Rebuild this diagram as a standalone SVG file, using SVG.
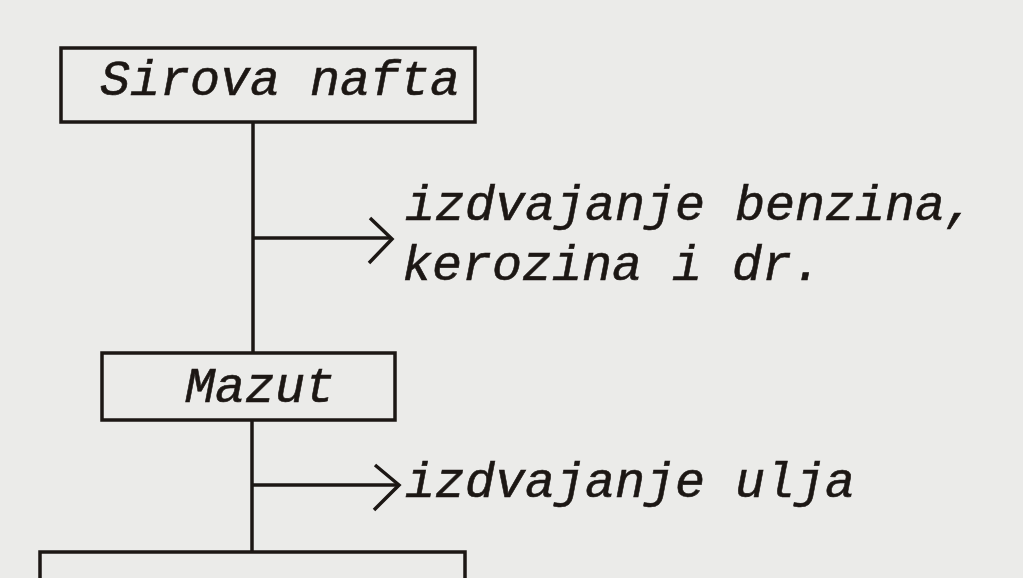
<svg xmlns="http://www.w3.org/2000/svg" width="1023" height="578" viewBox="0 0 1023 578">
<style>
.box{fill:none;stroke:#1c1714;stroke-width:3.5}
.ln{fill:none;stroke:#1c1714;stroke-width:3.5}
.ah{fill:none;stroke:#1c1714;stroke-width:3.5;stroke-linejoin:miter}
.t{font-family:"Liberation Mono","DejaVu Sans Mono",monospace;font-style:italic;font-size:50px;fill:#1c1714;stroke:#1c1714;stroke-width:0.6}
</style>
<rect x="0" y="0" width="1023" height="578" fill="#ebebe9"/>
<g id="connectors">
<path class="ln" d="M253 122 V353"/>
<path class="ln" d="M252 420 V552"/>
<path class="ln" d="M253 238 H391"/>
<path class="ah" d="M370 218 L392 239 L369 263"/>
<path class="ln" d="M252 485 H398"/>
<path class="ah" d="M375 465 L399 485 L374 510"/>
</g>
<g id="node-sirova-nafta">
<rect class="box" x="61" y="48" width="414" height="74"/>
<text class="t" x="100" y="95">Sirova nafta</text>
</g>
<g id="label-benzin">
<text class="t" x="405" y="220">izdvajanje benzina,</text>
<text class="t" x="402" y="280">kerozina i dr.</text>
</g>
<g id="node-mazut">
<rect class="box" x="102" y="353" width="293" height="67"/>
<text class="t" x="185" y="402">Mazut</text>
</g>
<g id="label-ulja">
<text class="t" x="405" y="497">izdvajanje ulja</text>
</g>
<g id="node-bottom">
<path class="box" d="M40 590 V552 H465 V590"/>
</g>
</svg>
